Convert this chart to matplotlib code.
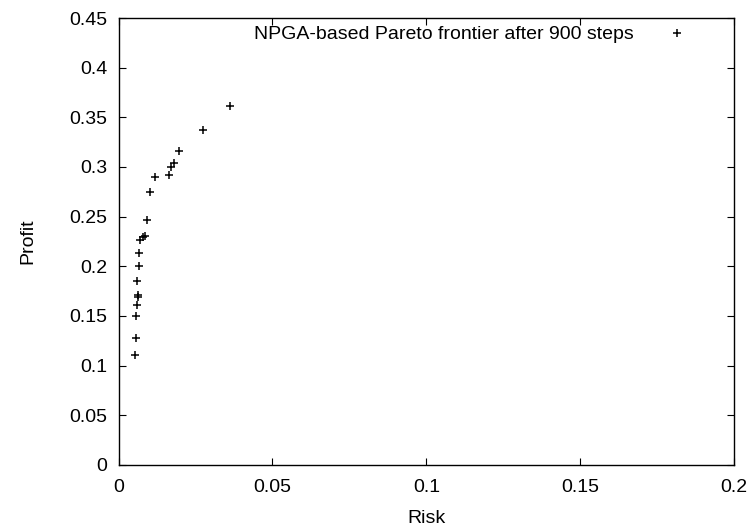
import matplotlib.pyplot as plt

plt.rcParams['font.family'] = ['Liberation Sans', 'DejaVu Sans']

risk = [0.0363, 0.0275, 0.0197, 0.0180, 0.0171, 0.0165, 0.0118, 0.0103,
        0.0091, 0.0086, 0.0079, 0.0071, 0.0067, 0.0066, 0.0061, 0.0062,
        0.0062, 0.0061, 0.0058, 0.0058, 0.0052]
profit = [0.3613, 0.3370, 0.3160, 0.3040, 0.3000, 0.2916, 0.2900, 0.2745,
          0.2470, 0.2308, 0.2295, 0.2265, 0.2130, 0.2003, 0.1855, 0.1714,
          0.1688, 0.1614, 0.1497, 0.1275, 0.1107]

fig = plt.figure(figsize=(7.5, 5.3), dpi=100)
ax = fig.add_axes([0.158, 0.123, 0.821, 0.843])

ax.plot(risk, profit, linestyle='none', marker='+', color='black',
        markersize=5.5, markeredgewidth=1.1,
        label='NPGA-based Pareto frontier after 900 steps')

ax.set_xlim(0, 0.2)
ax.set_ylim(0, 0.45)
ax.set_xticks([0, 0.05, 0.1, 0.15, 0.2])
ax.set_xticklabels(['0', '0.05', '0.1', '0.15', '0.2'])
ax.set_yticks([0, 0.05, 0.1, 0.15, 0.2, 0.25, 0.3, 0.35, 0.4, 0.45])
ax.set_yticklabels(['0', '0.05', '0.1', '0.15', '0.2', '0.25', '0.3', '0.35', '0.4', '0.45'])
ax.tick_params(direction='in', top=True, right=True, length=5, labelsize=14)
ax.tick_params(axis='x', pad=10)
ax.tick_params(axis='y', pad=8)
for s in ax.spines.values():
    s.set_linewidth(1.0)
ax.set_xlabel('Risk', fontsize=14, labelpad=10)
ax.set_ylabel('Profit', fontsize=14, labelpad=24)

ax.legend(loc='upper right', bbox_to_anchor=(0.9415, 0.987), frameon=False,
          markerfirst=False, fontsize=14, handlelength=2.0,
          handletextpad=1.2, borderaxespad=0, borderpad=0.1)

fig.savefig('out.png', dpi=100)
